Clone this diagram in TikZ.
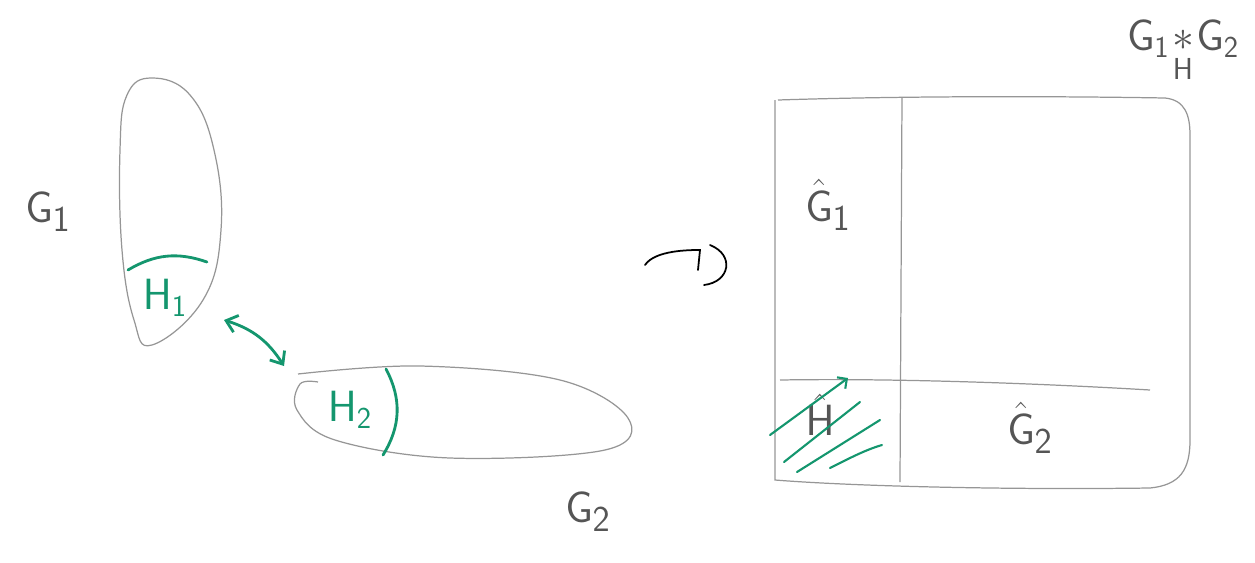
\documentclass[tikz,border=0pt]{standalone}
\usepackage{amsmath}
\usetikzlibrary{arrows.meta}
\definecolor{pencil}{RGB}{150,150,150}
\definecolor{ink}{RGB}{85,85,85}
\definecolor{marker}{RGB}{20,150,110}
\begin{document}
\begin{tikzpicture}[
    x=0.02cm, y=-0.02cm,
    every node/.style={font=\sffamily, text=ink},
    outline/.style={draw=pencil, line width=0.7pt},
    hl/.style={draw=marker, line width=1.6pt, line cap=round},
    big/.style={font=\fontsize{30}{34}\selectfont},
    mid/.style={font=\fontsize{24}{28}\selectfont, text=marker},
    dbl/.style={{Straight Barb[length=6pt,width=10pt]}-{Straight Barb[length=6pt,width=10pt]}, hl}
]
\useasboundingbox (0,0) rectangle (1255,562);
% left: the two groups
\draw[outline] plot[smooth cycle, tension=0.7] coordinates
    {(152,78) (190,95) (214,150) (221,230) (203,300) (152,345) (134,320) (122,250) (120,150) (127,95)};
\draw[outline] plot[smooth, tension=0.6] coordinates
    {(298,374) (420,366) (560,380) (628,418) (605,450) (450,458) (335,440) (297,410) (300,384) (318,382)};
\node[big] (g1) at (48,212) {$\mathsf{G}_{\mathsf{1}}$};
\node[big] (g2) at (588,512) {$\mathsf{G}_{\mathsf{2}}$};
\draw[hl] (128,270) to[bend left=25] (207,262);
\draw[hl] (386,369) to[bend left=30] (383,455);
\node[mid] (h1) at (165,298) {$\mathsf{H}_{\mathsf{1}}$};
\node[mid] (h2) at (350,410) {$\mathsf{H}_{\mathsf{2}}$};
\coordinate (a1) at (224,320);
\coordinate (a2) at (284,366);
\draw[dbl] (a1) to[bend left=20] (a2);
% arrow sign
\draw[draw=black, line width=1pt, line cap=round]
    (645,265) .. controls (655,250) and (690,250) .. (700,250) -- (698,270);
\draw[draw=black, line width=1pt, line cap=round]
    (710,245) .. controls (735,255) and (730,282) .. (704,285);
% right: the amalgam
\draw[outline] (778,100) .. controls (900,96) and (1050,96) .. (1165,98)
    .. controls (1185,100) and (1190,115) .. (1190,135) -- (1190,440)
    .. controls (1190,470) and (1180,485) .. (1150,488)
    .. controls (1000,490) and (850,486) .. (775,480) -- (775,100);
\draw[outline] (902,97) -- (900,482);
\draw[outline] (780,380) .. controls (900,378) and (1050,384) .. (1150,390);
\node[big] (gh1) at (828,205) {$\hat{\mathsf{G}}_{\mathsf{1}}$};
\node[big] (gh2) at (1030,428) {$\hat{\mathsf{G}}_{\mathsf{2}}$};
\node[big] (hh) at (820,415) {$\hat{\mathsf{H}}$};
\node[font=\fontsize{26}{30}\selectfont] (amal) at (1183,52)
    {$\mathsf{G}_{\mathsf{1}}\!\underset{\mathsf{H}}{*}\!\mathsf{G}_{\mathsf{2}}$};
% hatching
\draw[hl, line width=1.2pt, -{Straight Barb[length=4pt]}] (770,435) -- (848,378);
\draw[hl, line width=1.2pt] (784,462) -- (860,402);
\draw[hl, line width=1.2pt] (797,472) -- (880,420);
\draw[hl, line width=1.2pt] (830,468) .. controls (850,458) and (865,450) .. (882,445);
\end{tikzpicture}
\end{document}
